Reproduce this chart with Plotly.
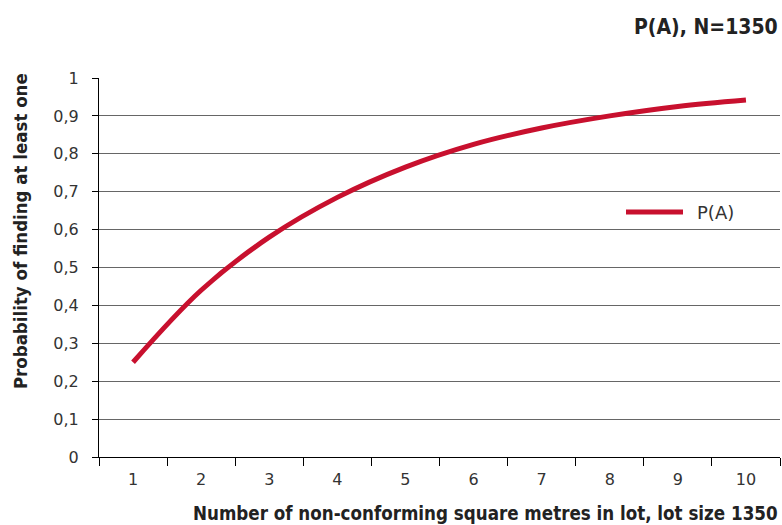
import plotly.graph_objects as go

categories = ["1", "2", "3", "4", "5", "6", "7", "8", "9", "10"]
p_a = [0.25, 0.44, 0.58, 0.685, 0.765, 0.825, 0.868, 0.90, 0.925, 0.942]
y_tickvals = [0, 0.1, 0.2, 0.3, 0.4, 0.5, 0.6, 0.7, 0.8, 0.9, 1]
y_ticktext = ["0", "0,1", "0,2", "0,3", "0,4", "0,5", "0,6", "0,7", "0,8", "0,9", "1"]
series_name = "P(A)"

bold_font = "DejaVu Sans Condensed, DejaVu Sans, sans-serif"
tick_font = "DejaVu Sans, sans-serif"
red = "#C8102E"

fig = go.Figure()
fig.add_trace(go.Scatter(
    x=categories, y=p_a, mode="lines", name=series_name,
    line=dict(color=red, width=5, shape="spline"),
    showlegend=False,
))

# legend key drawn as paper-positioned line + label
fig.add_shape(type="line", xref="paper", yref="paper",
              x0=(626 - 99) / 681, x1=(683 - 99) / 681, y0=(457 - 212) / 379, y1=(457 - 212) / 379,
              line=dict(color=red, width=5))

fig.update_layout(
    width=782, height=525,
    margin=dict(l=99, r=2, t=78, b=68),
    paper_bgcolor="white", plot_bgcolor="white",
    xaxis=dict(type="category", tickson="boundaries", range=[-0.5, 9.5],
               showline=True, linecolor="black", linewidth=1,
               ticks="outside", ticklen=8, tickcolor="black",
               showgrid=False, ticklabelstandoff=8,
               tickfont=dict(family=tick_font, size=16, color="#333")),
    yaxis=dict(range=[0, 1], tickvals=y_tickvals, ticktext=y_ticktext,
               showline=True, linecolor="black", linewidth=1,
               ticks="outside", ticklen=6, tickcolor="black",
               showgrid=True, gridcolor="#666", gridwidth=1,
               zeroline=False, ticklabelstandoff=10,
               tickfont=dict(family=tick_font, size=16, color="#333")),
    annotations=[
        dict(text="<b>P(A), N=1350</b>", xref="paper", yref="paper",
             x=1.0, y=1.135, xanchor="right", yanchor="middle", showarrow=False,
             font=dict(family=bold_font, size=21, color="#222")),
        dict(text="<b>Number of non-conforming square metres in lot, lot size 1350</b>",
             xref="paper", yref="paper", x=1.0, y=-0.148, xanchor="right",
             yanchor="middle", showarrow=False,
             font=dict(family=bold_font, size=18.6, color="#222")),
        dict(text="<b>Probability of finding at least one</b>",
             xref="paper", yref="paper", x=-0.116, y=0.596, xanchor="center",
             yanchor="middle", showarrow=False, textangle=-90,
             font=dict(family=bold_font, size=18.5, color="#222")),
        dict(text=series_name, xref="paper", yref="paper",
             x=(695 - 99) / 681, y=(457 - 212) / 379, xanchor="left", yanchor="middle",
             showarrow=False,
             font=dict(family=tick_font, size=18, color="#333")),
    ],
)

fig.write_html("out.html", config={"displayModeBar": False},
               post_script="document.body.style.margin='0';document.body.style.padding='0';")
